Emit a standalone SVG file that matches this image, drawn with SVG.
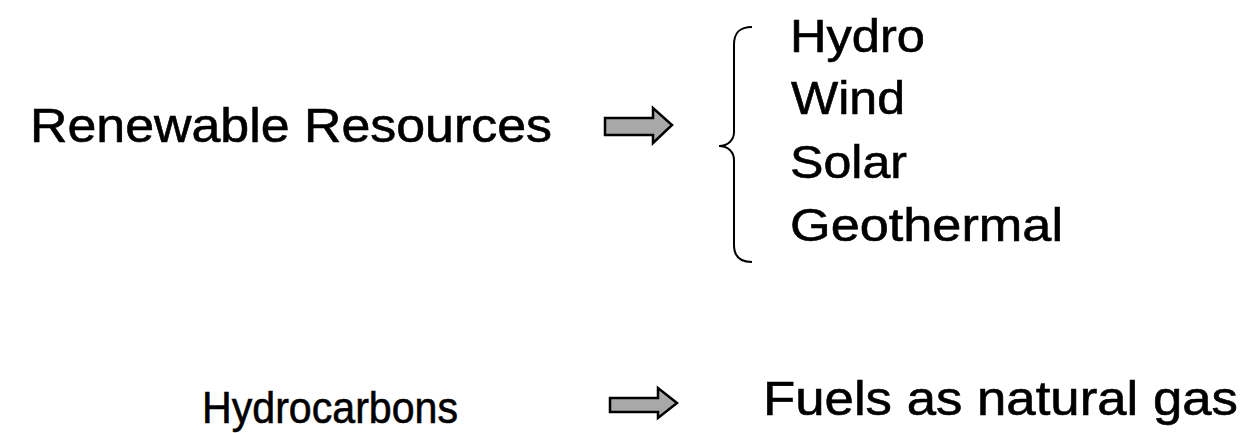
<svg xmlns="http://www.w3.org/2000/svg" width="1248" height="433" viewBox="0 0 1248 433">
<style>
.t{font-family:"Liberation Sans",Arial,sans-serif;fill:#000;stroke:#000;stroke-width:0.6}
.arr{fill:#a8a8a8;stroke:#000;stroke-width:2.5;stroke-linejoin:miter}
.br{fill:none;stroke:#000;stroke-width:2}
</style>
<rect width="1248" height="433" fill="#fff"/>
<g id="renewable"><text class="t" x="30" y="142" font-size="48" textLength="522" lengthAdjust="spacingAndGlyphs">Renewable Resources</text></g>
<g id="list">
<text class="t" x="790" y="52" font-size="47" textLength="135" lengthAdjust="spacingAndGlyphs">Hydro</text>
<text class="t" x="791" y="114" font-size="47" textLength="114" lengthAdjust="spacingAndGlyphs">Wind</text>
<text class="t" x="790" y="178" font-size="47" textLength="117" lengthAdjust="spacingAndGlyphs">Solar</text>
<text class="t" x="790" y="241" font-size="47" textLength="273" lengthAdjust="spacingAndGlyphs">Geothermal</text>
</g>
<g id="hydrocarbons"><text class="t" x="202" y="423" font-size="44" textLength="256" lengthAdjust="spacingAndGlyphs">Hydrocarbons</text></g>
<g id="fuels"><text class="t" x="763" y="415" font-size="49" textLength="475" lengthAdjust="spacingAndGlyphs">Fuels as natural gas</text></g>
<g id="connectors">
<path class="arr" d="M605,118 L653,118 L653,108 L672,125 L653,143 L653,135 L605,135 Z"/>
<path class="arr" d="M610,398 L658,398 L658,388 L677,403 L658,418 L658,412 L610,412 Z"/>
<path class="br" d="M752,27 C740,27 734,32 734,45 L734,132 C734,140 728,146 719,146 C728,146 734,152 734,160 L734,245 C734,257 740,262 752,262"/>
</g>
</svg>
